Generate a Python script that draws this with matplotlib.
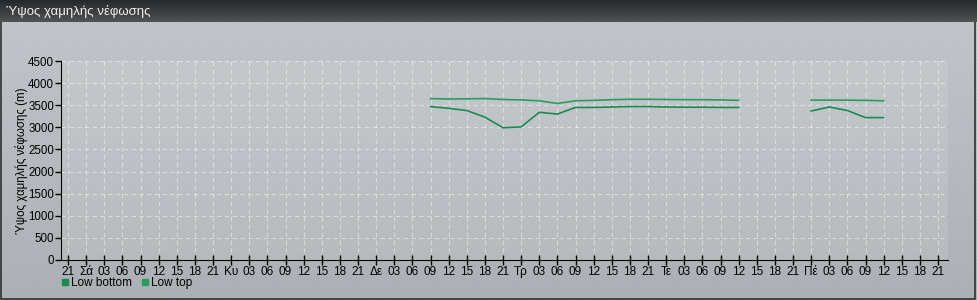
import numpy as np
import matplotlib
matplotlib.use('Agg')
from matplotlib import pyplot as plt
from matplotlib.lines import Line2D
from matplotlib.patches import Rectangle

plt.rcParams['font.family'] = ['Liberation Sans', 'DejaVu Sans']

title = 'Ύψος χαμηλής νέφωσης'
ylabel = 'Ύψος χαμηλής νέφωσης (m)'
series_names = ['Low bottom', 'Low top']

# hours counted from the first "21" tick (Friday 21:00)
hours = [60, 63, 66, 69, 72, 75, 78, 81, 84, 87, 90, 93, 96, 99, 102, 105, 108, 111,
         117,
         123, 126, 129, 132, 135]
low_bottom = [3470, 3430, 3380, 3230, 2990, 3010, 3340, 3300, 3450, 3450, 3460, 3470,
              3470, 3460, 3455, 3455, 3450, 3450,
              np.nan,
              3370, 3460, 3380, 3220, 3220]
low_top = [3650, 3640, 3645, 3650, 3630, 3620, 3600, 3540, 3600, 3610, 3625, 3635,
           3635, 3630, 3625, 3625, 3620, 3610,
           np.nan,
           3615, 3615, 3615, 3610, 3600]

tick_labels = ['21', 'Σά', '03', '06', '09', '12', '15', '18', '21',
               'Κυ', '03', '06', '09', '12', '15', '18', '21',
               'Δε', '03', '06', '09', '12', '15', '18', '21',
               'Τρ', '03', '06', '09', '12', '15', '18', '21',
               'Τε', '03', '06', '09', '12', '15', '18', '21',
               'Πέ', '03', '06', '09', '12', '15', '18', '21']
yticks = [0, 500, 1000, 1500, 2000, 2500, 3000, 3500, 4000, 4500]

col_bottom = '#1c8a52'
col_top = '#2a9d5e'

W, H = 978, 300
fig = plt.figure(figsize=(W / 100, H / 100), dpi=100)

# background panel with gradient and diagonal stripes
bg = fig.add_axes([0, 0, 1, 1])
bg.set_axis_off()
grad = np.linspace(0, 1, 256).reshape(-1, 1)
bg.imshow(grad, extent=[0, 1, 0, 1], aspect='auto', cmap=matplotlib.colors.LinearSegmentedColormap.from_list(
    'bgc', ['#b2b6ba', '#cbcfd3']), origin='lower', zorder=0)
plt.rcParams['hatch.linewidth'] = 0.8
bg.add_patch(Rectangle((0, 0), 1, 1, facecolor='none', edgecolor=(0.55, 0.58, 0.62, 0.3),
                       hatch='//////////', lw=0, zorder=1))
bg.add_patch(Rectangle((0.001, 0.004), 0.996, 0.99, facecolor='none', edgecolor='#303030', lw=1.2, zorder=2))
bg.set_xlim(0, 1)
bg.set_ylim(0, 1)

# title bar
tb = fig.add_axes([0, 1 - 22 / H, 1, 22 / H])
tb.set_axis_off()
tb.imshow(grad, extent=[0, 1, 0, 1], aspect='auto', cmap=matplotlib.colors.LinearSegmentedColormap.from_list(
    'tbc', ['#505254', '#26282a']), origin='lower')
tb.set_xlim(0, 1)
tb.set_ylim(0, 1)
tb.text(6 / W, 0.5, title, color='#f0f0f0', fontsize=9.5, va='center', ha='left')

# plot area
x0, x1 = 61, 948
y0, y1 = 61, 260
ax = fig.add_axes([x0 / W, 1 - y1 / H, (x1 - x0) / W, (y1 - y0) / H])
ax.set_facecolor((1, 1, 1, 0.1))
ax.set_xlim(-1.16, 145.65)
ax.set_ylim(0, 4500)
for s in ['top', 'right']:
    ax.spines[s].set_visible(False)
ax.spines['left'].set_color('black')
ax.spines['bottom'].set_color('black')

ax.set_xticks(np.arange(0, 145, 3))
ax.set_xticklabels(tick_labels)
ax.set_yticks(yticks)
ax.tick_params(axis='x', direction='inout', length=7, width=1, labelsize=8.5, pad=1, colors='black')
ax.tick_params(axis='y', direction='out', length=4, width=1, labelsize=8.3, pad=1, colors='black')
ax.grid(True, color='white', linestyle=(0, (4, 3)), linewidth=0.8, alpha=0.45)
ax.set_axisbelow(True)
ax.set_ylabel(ylabel, fontsize=8.3, va='center')
ax.yaxis.set_label_coords((22 - x0) / (x1 - x0), 0.5)

ax.plot(hours, low_bottom, color=col_bottom, lw=1.2)
ax.plot(hours, low_top, color=col_top, lw=1.2)

handles = [Line2D([], [], marker='s', color='none', markerfacecolor=col_bottom, markeredgecolor=col_bottom, markersize=5),
           Line2D([], [], marker='s', color='none', markerfacecolor=col_top, markeredgecolor=col_top, markersize=5)]
fig.legend(handles, series_names, loc='center left', bbox_to_anchor=(56 / W, 1 - 283 / H), ncol=2,
           frameon=False, fontsize=8.5, handlelength=0.6, handletextpad=0.2, columnspacing=0.8, borderpad=0)

fig.savefig('out.png', dpi=100)
